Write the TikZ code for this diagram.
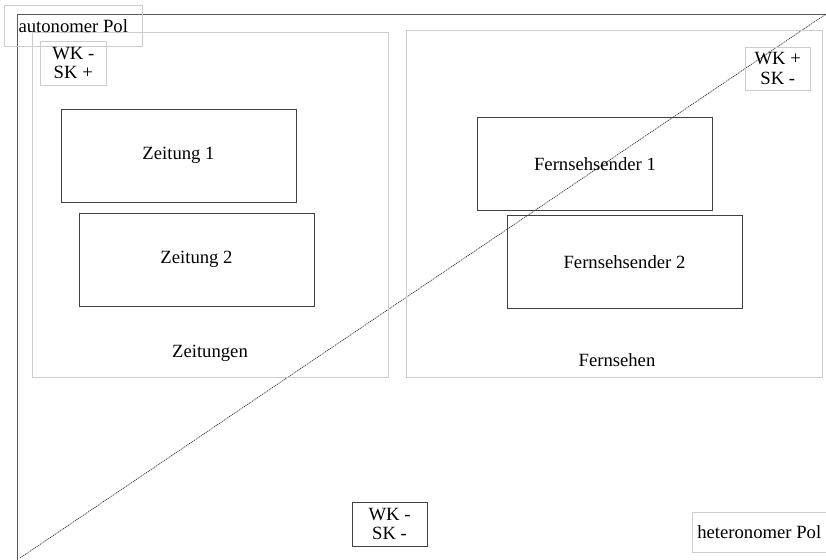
\documentclass[tikz,border=0pt]{standalone}
\usepackage{fontspec}
\setmainfont{Liberation Serif}
\usetikzlibrary{positioning}
\definecolor{framecolor}{rgb}{0.80, 0.80, 0.80}
\definecolor{boxcolor}{rgb}{0.25, 0.25, 0.25}
\definecolor{axiscolor}{rgb}{0.35, 0.35, 0.35}
\tikzset{
	feld/.style={
		rectangle,
		draw=framecolor,
		thin,
		fill=none
	},
	medium/.style={
		rectangle,
		draw=boxcolor,
		thin,
		minimum width=176pt,
		minimum height=69.5pt,
		font=\fontsize{14}{16}\selectfont
	},
	pol/.style={
		rectangle,
		draw=framecolor,
		thin,
		inner sep=2pt,
		font=\fontsize{14}{16}\selectfont
	},
	kapital/.style={
		rectangle,
		thin,
		align=center,
		inner sep=2pt,
		font=\fontsize{14}{14.5}\selectfont
	},
	beschriftung/.style={
		font=\fontsize{14}{16}\selectfont
	},
	achse/.style={
		draw=axiscolor,
		thin
	},
	diagonale/.style={
		draw=black!80,
		line width=0.5pt,
		dash pattern=on 0.9pt off 0.6pt
	},
}

\begin{document}
\begin{tikzpicture}[x=0.75pt,y=-0.75pt]
				\useasboundingbox (0,0) rectangle (826,560);
				\coordinate (ursprung) at (17,560);
				\coordinate (ecke) at (17,14);
				\coordinate (rechts) at (826,14);
				\coordinate (unten) at (20,558);
				
				% Achsen
				\path[achse] (ursprung) -- (ecke) -- (rechts);
				\path[diagonale] (unten) -- (rechts);
				
				% Felder
				\node [feld,minimum width=267pt,minimum height=258.75pt] (zeitungen) at (210,204.5) {};
				\node [feld,minimum width=312pt,minimum height=260.25pt] (fernsehen) at (614,203.5) {};
				\node [beschriftung] (lzeitungen) at (210,353) {Zeitungen};
				\node [beschriftung] (lfernsehen) at (617,360) {Fernsehen};
				
				\node [medium,fill=white] (z1) at (178.5,155.5) {Zeitung 1};
				\node [medium,fill=white] (z2) at (196.5,259.5) {Zeitung 2};
				\node [medium] (f1) at (595,164) {Fernsehsender 1};
				\node [medium] (f2) at (624.5,262) {Fernsehsender 2};
				
				% Pole
				\node [pol,minimum width=103.5pt,minimum height=31pt,anchor=north west] (autonom) at (4,5) {autonomer Pol};
				\node [pol,minimum width=100.5pt,minimum height=30pt,anchor=north west] (heteronom) at (692,512) {heteronomer Pol};
				
				% Kapitalsorten
				\node [kapital,draw=framecolor,minimum width=49.5pt,minimum height=33pt,anchor=north west] (wksk1) at (40,41) {WK -\\SK +};
				\node [kapital,draw=framecolor,minimum width=48.75pt,minimum height=32pt,anchor=north west] (wksk2) at (745,47) {WK +\\SK -};
				\node [kapital,draw=boxcolor,minimum width=56pt,minimum height=33pt,anchor=north west] (wksk3) at (352,502) {WK -\\SK -};
\end{tikzpicture}
\end{document}
